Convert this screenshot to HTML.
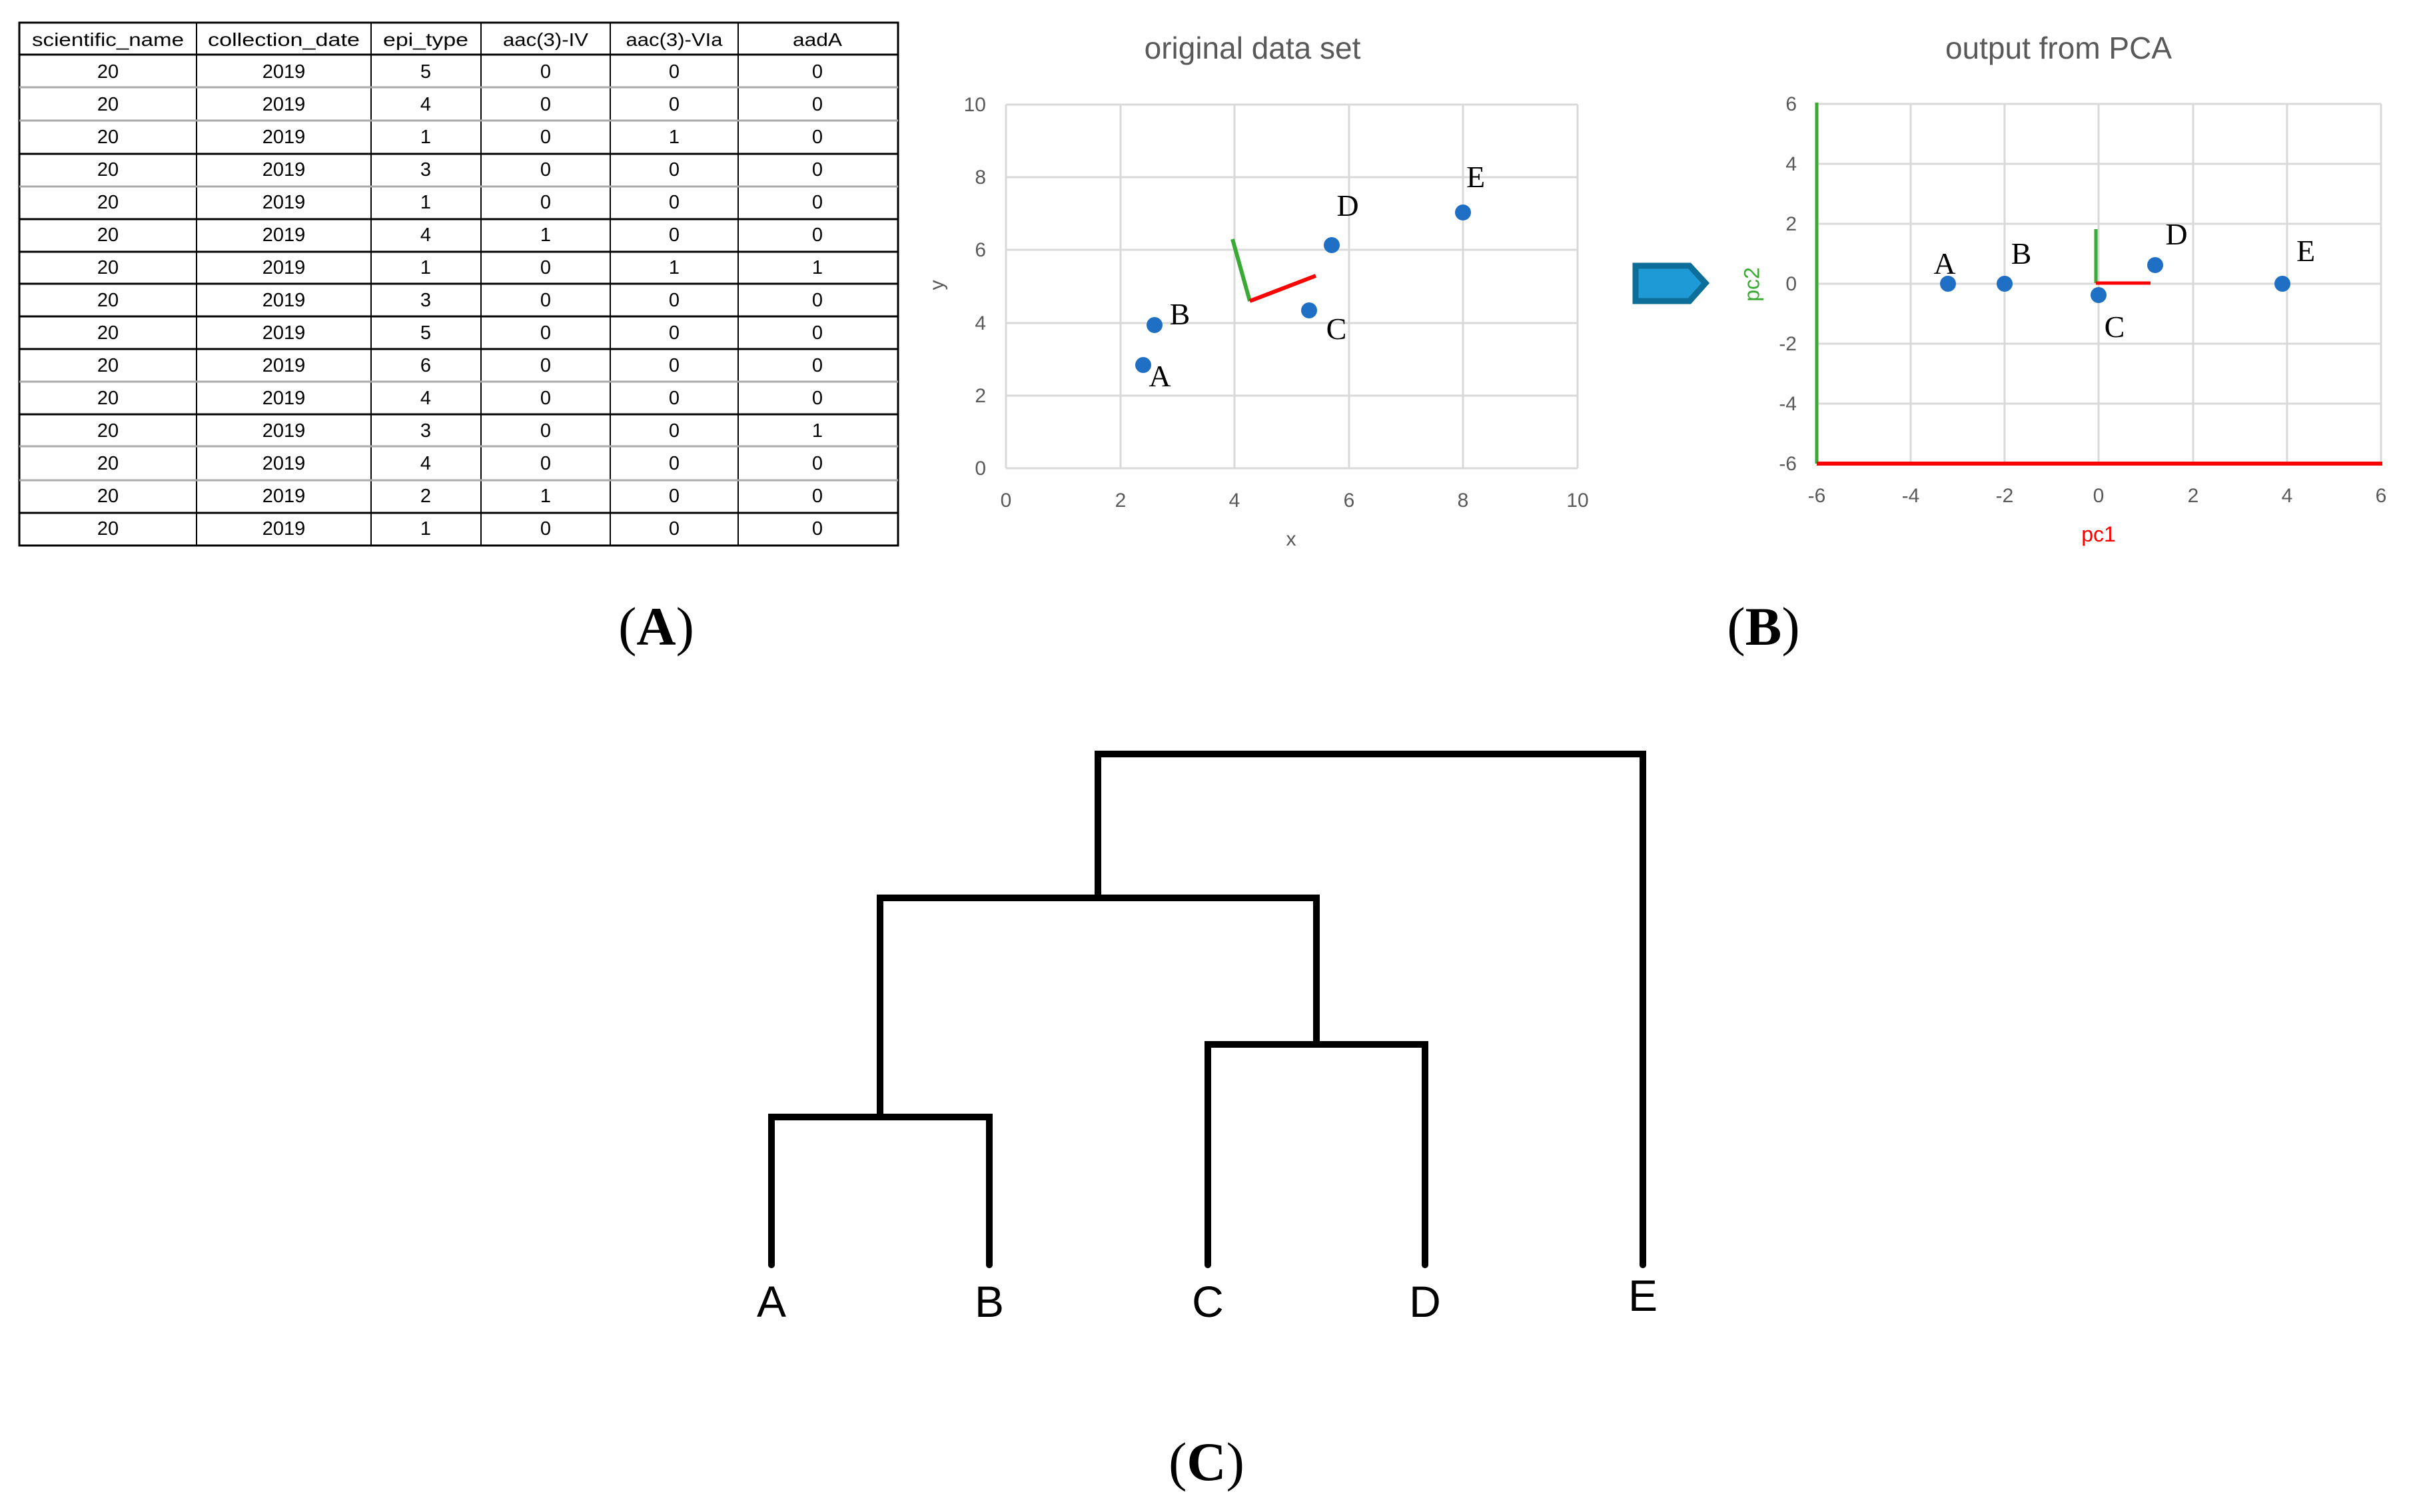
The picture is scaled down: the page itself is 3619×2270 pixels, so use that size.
<!DOCTYPE html>
<html><head><meta charset="utf-8"><style>
html,body{margin:0;padding:0;background:#fff;}
body{width:3619px;height:2270px;overflow:hidden;position:relative;}
svg{position:absolute;left:0;top:0;}
</style></head><body>
<svg width="3619" height="2270" viewBox="0 0 3619 2270" xmlns="http://www.w3.org/2000/svg">
<!-- TABLE -->
<g font-family="'Liberation Sans', sans-serif" font-size="29" fill="#000" text-anchor="middle">
<rect x="29" y="34" width="1319" height="785" fill="none" stroke="#000" stroke-width="3"/>
<g stroke="#000" stroke-width="2">
<line x1="295" y1="34" x2="295" y2="819"/><line x1="557" y1="34" x2="557" y2="819"/>
<line x1="722" y1="34" x2="722" y2="819"/><line x1="916" y1="34" x2="916" y2="819"/>
<line x1="1108" y1="34" x2="1108" y2="819"/>
</g>
<g stroke-width="3">
<line x1="29" y1="82" x2="1348" y2="82" stroke="#000"/>
<line x1="29" y1="131" x2="1348" y2="131" stroke="#aaa"/>
<line x1="29" y1="181" x2="1348" y2="181" stroke="#aaa"/>
<line x1="29" y1="231" x2="1348" y2="231" stroke="#000"/>
<line x1="29" y1="280" x2="1348" y2="280" stroke="#aaa"/>
<line x1="29" y1="329" x2="1348" y2="329" stroke="#000"/>
<line x1="29" y1="378" x2="1348" y2="378" stroke="#000"/>
<line x1="29" y1="426" x2="1348" y2="426" stroke="#000"/>
<line x1="29" y1="475" x2="1348" y2="475" stroke="#000"/>
<line x1="29" y1="524" x2="1348" y2="524" stroke="#000"/>
<line x1="29" y1="573" x2="1348" y2="573" stroke="#aaa"/>
<line x1="29" y1="622" x2="1348" y2="622" stroke="#000"/>
<line x1="29" y1="670" x2="1348" y2="670" stroke="#aaa"/>
<line x1="29" y1="721" x2="1348" y2="721" stroke="#aaa"/>
<line x1="29" y1="770" x2="1348" y2="770" stroke="#000"/>
</g>
<g font-size="28">
<text x="162" y="69" textLength="228" lengthAdjust="spacingAndGlyphs">scientific_name</text>
<text x="426" y="69" textLength="228" lengthAdjust="spacingAndGlyphs">collection_date</text>
<text x="639" y="69" textLength="128" lengthAdjust="spacingAndGlyphs">epi_type</text>
<text x="819" y="69" textLength="128" lengthAdjust="spacingAndGlyphs">aac(3)-IV</text>
<text x="1012" y="69" textLength="145" lengthAdjust="spacingAndGlyphs">aac(3)-VIa</text>
<text x="1227" y="69" textLength="74" lengthAdjust="spacingAndGlyphs">aadA</text>
</g>
<g id="rows"></g>
</g>
<!-- Rows generated statically -->
<g font-family="'Liberation Sans', sans-serif" font-size="29" fill="#000" text-anchor="middle">
<text x="162" y="117">20</text><text x="426" y="117">2019</text><text x="639" y="117">5</text><text x="819" y="117">0</text><text x="1012" y="117">0</text><text x="1227" y="117">0</text>
<text x="162" y="166">20</text><text x="426" y="166">2019</text><text x="639" y="166">4</text><text x="819" y="166">0</text><text x="1012" y="166">0</text><text x="1227" y="166">0</text>
<text x="162" y="215">20</text><text x="426" y="215">2019</text><text x="639" y="215">1</text><text x="819" y="215">0</text><text x="1012" y="215">1</text><text x="1227" y="215">0</text>
<text x="162" y="264">20</text><text x="426" y="264">2019</text><text x="639" y="264">3</text><text x="819" y="264">0</text><text x="1012" y="264">0</text><text x="1227" y="264">0</text>
<text x="162" y="313">20</text><text x="426" y="313">2019</text><text x="639" y="313">1</text><text x="819" y="313">0</text><text x="1012" y="313">0</text><text x="1227" y="313">0</text>
<text x="162" y="362">20</text><text x="426" y="362">2019</text><text x="639" y="362">4</text><text x="819" y="362">1</text><text x="1012" y="362">0</text><text x="1227" y="362">0</text>
<text x="162" y="411">20</text><text x="426" y="411">2019</text><text x="639" y="411">1</text><text x="819" y="411">0</text><text x="1012" y="411">1</text><text x="1227" y="411">1</text>
<text x="162" y="460">20</text><text x="426" y="460">2019</text><text x="639" y="460">3</text><text x="819" y="460">0</text><text x="1012" y="460">0</text><text x="1227" y="460">0</text>
<text x="162" y="509">20</text><text x="426" y="509">2019</text><text x="639" y="509">5</text><text x="819" y="509">0</text><text x="1012" y="509">0</text><text x="1227" y="509">0</text>
<text x="162" y="558">20</text><text x="426" y="558">2019</text><text x="639" y="558">6</text><text x="819" y="558">0</text><text x="1012" y="558">0</text><text x="1227" y="558">0</text>
<text x="162" y="607">20</text><text x="426" y="607">2019</text><text x="639" y="607">4</text><text x="819" y="607">0</text><text x="1012" y="607">0</text><text x="1227" y="607">0</text>
<text x="162" y="656">20</text><text x="426" y="656">2019</text><text x="639" y="656">3</text><text x="819" y="656">0</text><text x="1012" y="656">0</text><text x="1227" y="656">1</text>
<text x="162" y="705">20</text><text x="426" y="705">2019</text><text x="639" y="705">4</text><text x="819" y="705">0</text><text x="1012" y="705">0</text><text x="1227" y="705">0</text>
<text x="162" y="754">20</text><text x="426" y="754">2019</text><text x="639" y="754">2</text><text x="819" y="754">1</text><text x="1012" y="754">0</text><text x="1227" y="754">0</text>
<text x="162" y="803">20</text><text x="426" y="803">2019</text><text x="639" y="803">1</text><text x="819" y="803">0</text><text x="1012" y="803">0</text><text x="1227" y="803">0</text>
</g>

<!-- CHART 1 -->
<g font-family="'Liberation Sans', sans-serif">
<text x="1880" y="88" font-size="46" fill="#595959" text-anchor="middle">original data set</text>
<g stroke="#d9d9d9" stroke-width="3">
<line x1="1510" y1="157" x2="2368" y2="157"/><line x1="1510" y1="266" x2="2368" y2="266"/>
<line x1="1510" y1="375" x2="2368" y2="375"/><line x1="1510" y1="485" x2="2368" y2="485"/>
<line x1="1510" y1="594" x2="2368" y2="594"/><line x1="1510" y1="703" x2="2368" y2="703"/>
<line x1="1510" y1="157" x2="1510" y2="703"/><line x1="1682" y1="157" x2="1682" y2="703"/>
<line x1="1853" y1="157" x2="1853" y2="703"/><line x1="2025" y1="157" x2="2025" y2="703"/>
<line x1="2196" y1="157" x2="2196" y2="703"/><line x1="2368" y1="157" x2="2368" y2="703"/>
</g>
<g font-size="30" fill="#595959" text-anchor="end">
<text x="1480" y="167">10</text><text x="1480" y="276">8</text><text x="1480" y="385">6</text>
<text x="1480" y="495">4</text><text x="1480" y="604">2</text><text x="1480" y="713">0</text>
</g>
<g font-size="30" fill="#595959" text-anchor="middle">
<text x="1510" y="761">0</text><text x="1682" y="761">2</text><text x="1853" y="761">4</text>
<text x="2025" y="761">6</text><text x="2196" y="761">8</text><text x="2368" y="761">10</text>
<text x="1938" y="819">x</text>
<text x="1408" y="428" transform="rotate(-90 1408 428)" dominant-baseline="middle">y</text>
</g>
<line x1="1850" y1="359" x2="1876" y2="452" stroke="#3aaa35" stroke-width="6"/>
<line x1="1876" y1="452" x2="1975" y2="414" stroke="#ff0000" stroke-width="6"/>
<g fill="#1f6fc5">
<circle cx="1716" cy="548" r="12"/><circle cx="1733" cy="488" r="12"/>
<circle cx="1965" cy="466" r="12"/><circle cx="1999" cy="368" r="12"/>
<circle cx="2196" cy="319" r="12"/>
</g>
<g font-family="'Liberation Serif', serif" font-size="46" fill="#000" text-anchor="middle">
<text x="1741" y="580">A</text><text x="1771" y="487">B</text><text x="2006" y="509">C</text>
<text x="2023" y="324">D</text><text x="2215" y="281">E</text>
</g>
</g>

<!-- Arrow -->
<polygon points="2455,399 2536,399 2560,425 2536,452 2455,452" fill="#1e9ad6" stroke="#0e6e9a" stroke-width="9"/>

<!-- CHART 2 -->
<g font-family="'Liberation Sans', sans-serif">
<text x="3090" y="88" font-size="46" fill="#595959" text-anchor="middle">output from PCA</text>
<g stroke="#d9d9d9" stroke-width="3">
<line x1="2727" y1="156" x2="3574" y2="156"/><line x1="2727" y1="246" x2="3574" y2="246"/>
<line x1="2727" y1="336" x2="3574" y2="336"/><line x1="2727" y1="426" x2="3574" y2="426"/>
<line x1="2727" y1="516" x2="3574" y2="516"/><line x1="2727" y1="606" x2="3574" y2="606"/>
<line x1="2868" y1="156" x2="2868" y2="696"/><line x1="3009" y1="156" x2="3009" y2="696"/>
<line x1="3150" y1="156" x2="3150" y2="696"/><line x1="3292" y1="156" x2="3292" y2="696"/>
<line x1="3433" y1="156" x2="3433" y2="696"/><line x1="3574" y1="156" x2="3574" y2="696"/>
</g>
<line x1="2727" y1="154" x2="2727" y2="696" stroke="#3aaa35" stroke-width="5"/>
<line x1="2727" y1="696" x2="3576" y2="696" stroke="#ff0000" stroke-width="6"/>
<g font-size="30" fill="#595959" text-anchor="end">
<text x="2697" y="166">6</text><text x="2697" y="256">4</text><text x="2697" y="346">2</text>
<text x="2697" y="436">0</text><text x="2697" y="526">-2</text><text x="2697" y="616">-4</text><text x="2697" y="706">-6</text>
</g>
<g font-size="30" fill="#595959" text-anchor="middle">
<text x="2727" y="754">-6</text><text x="2868" y="754">-4</text><text x="3009" y="754">-2</text>
<text x="3150" y="754">0</text><text x="3292" y="754">2</text><text x="3433" y="754">4</text><text x="3574" y="754">6</text>
</g>
<text x="3150" y="813" font-size="32" fill="#ff0000" text-anchor="middle">pc1</text>
<text x="2632" y="427" font-size="32" fill="#3aaa35" text-anchor="middle" dominant-baseline="middle" transform="rotate(-90 2632 427)">pc2</text>
<line x1="3146" y1="344" x2="3146" y2="425" stroke="#3aaa35" stroke-width="5"/>
<line x1="3146" y1="425" x2="3228" y2="425" stroke="#ff0000" stroke-width="5"/>
<g fill="#1f6fc5">
<circle cx="2924" cy="426" r="12"/><circle cx="3009" cy="426" r="12"/>
<circle cx="3150" cy="443" r="12"/><circle cx="3235" cy="398" r="12"/>
<circle cx="3426" cy="426" r="12"/>
</g>
<g font-family="'Liberation Serif', serif" font-size="46" fill="#000" text-anchor="middle">
<text x="2919" y="411">A</text><text x="3034" y="396">B</text><text x="3174" y="506">C</text>
<text x="3267" y="367">D</text><text x="3461" y="392">E</text>
</g>
</g>

<!-- Panel labels -->
<g font-family="'Liberation Serif', serif" font-size="82" text-anchor="middle" fill="#000">
<text x="985" y="968"><tspan>(</tspan><tspan font-weight="bold">A</tspan><tspan>)</tspan></text>
<text x="2647" y="968"><tspan>(</tspan><tspan font-weight="bold">B</tspan><tspan>)</tspan></text>
<text x="1811" y="2222"><tspan>(</tspan><tspan font-weight="bold">C</tspan><tspan>)</tspan></text>
</g>

<!-- Dendrogram -->
<g stroke="#000" stroke-width="10" fill="none" stroke-linecap="round" stroke-linejoin="miter">
<polyline points="1158,1899 1158,1677 1485,1677 1485,1899"/>
<polyline points="1813,1899 1813,1568 2139,1568 2139,1899"/>
<polyline points="1321,1677 1321,1348 1976,1348 1976,1568"/>
<polyline points="1648,1348 1648,1132 2466,1132 2466,1899"/>
</g>
<g font-family="'Liberation Sans', sans-serif" font-size="66" text-anchor="middle" fill="#000">
<text x="1158" y="1977">A</text><text x="1485" y="1977">B</text><text x="1813" y="1977">C</text>
<text x="2139" y="1977">D</text><text x="2466" y="1968">E</text>
</g>
</svg>
</body></html>
